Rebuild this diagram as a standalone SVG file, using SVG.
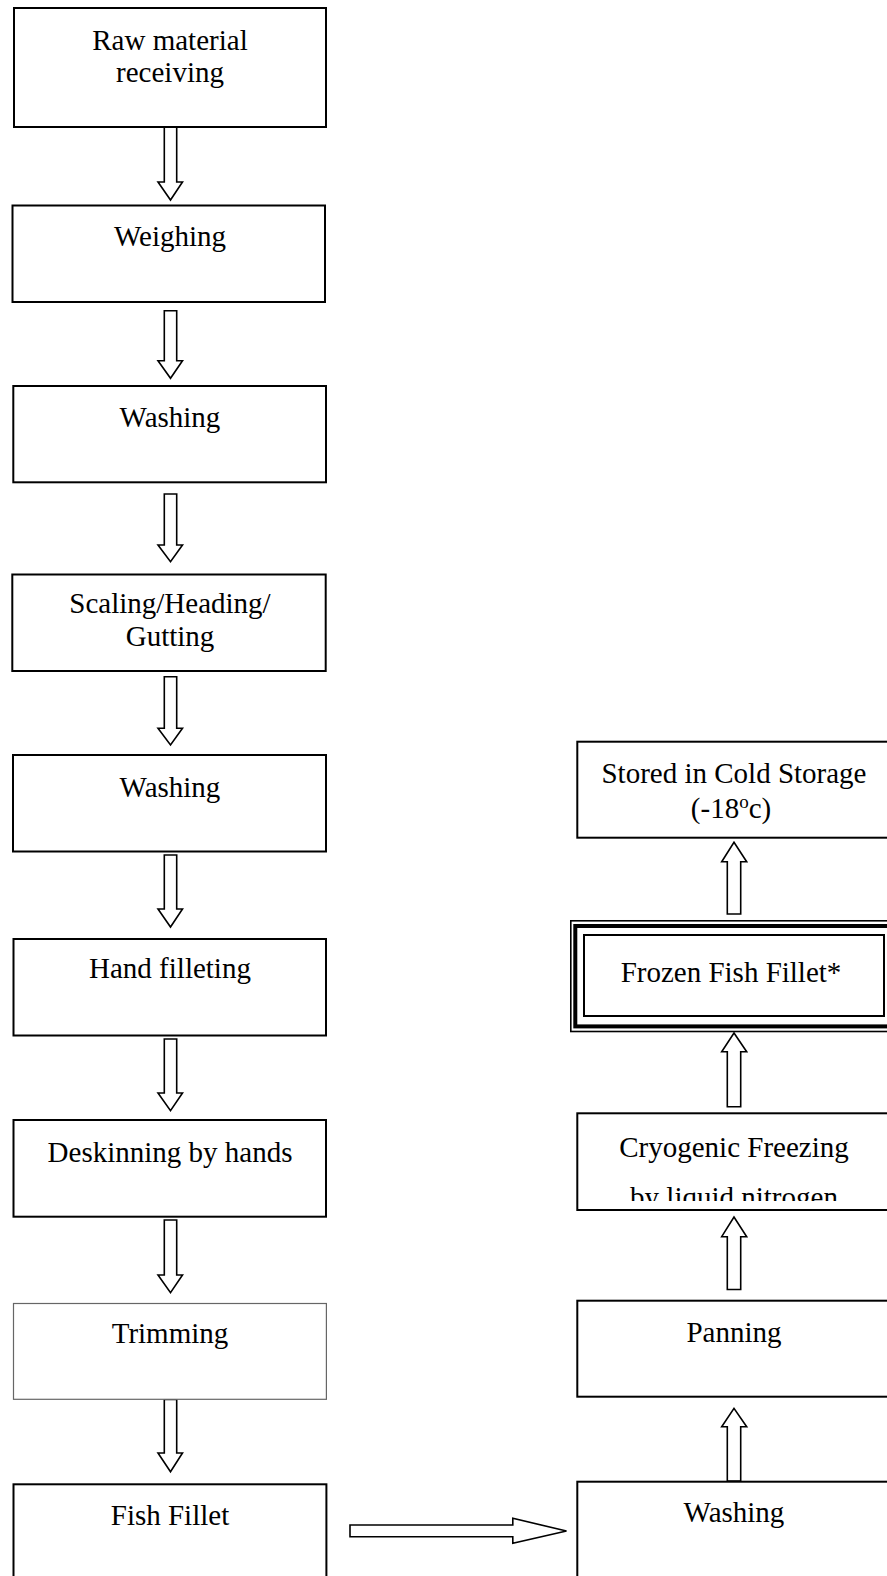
<svg xmlns="http://www.w3.org/2000/svg" width="887" height="1576" viewBox="0 0 887 1576">
<style>
.box{fill:#fff;stroke:#000;stroke-width:2}
.thin{fill:#fff;stroke:#666;stroke-width:1.2}
.arr{fill:#fff;stroke:#000;stroke-width:1.6;stroke-linejoin:miter}
text{font-family:"Liberation Serif","Times New Roman",serif;font-size:29px;fill:#000;text-anchor:middle}
</style>
<defs>
<clipPath id="cryoClip"><rect x="578" y="1114" width="309" height="87"/></clipPath>
</defs>
<rect x="0" y="0" width="887" height="1576" fill="#fff"/>

<g id="connectors">
<polygon class="arr" points="164.3,127 176.7,127 176.7,182 182.5,182 170.5,200 158,182 164.3,182"/>
<polygon class="arr" points="164.3,310.7 176.7,310.7 176.7,360.7 182.5,360.7 170.5,378.3 158,360.7 164.3,360.7"/>
<polygon class="arr" points="164.3,494 176.7,494 176.7,545 182.5,545 170.5,561.7 158,545 164.3,545"/>
<polygon class="arr" points="164.3,676.7 176.7,676.7 176.7,728.3 182.5,728.3 170.5,745 158,728.3 164.3,728.3"/>
<polygon class="arr" points="164.3,855 176.7,855 176.7,909 182.5,909 170.5,927 158,909 164.3,909"/>
<polygon class="arr" points="164.3,1039 176.7,1039 176.7,1093 182.5,1093 170.5,1110.7 158,1093 164.3,1093"/>
<polygon class="arr" points="164.3,1220 176.7,1220 176.7,1275 182.5,1275 170.5,1292.7 158,1275 164.3,1275"/>
<polygon class="arr" points="164.3,1399.5 176.7,1399.5 176.7,1453 182.5,1453 170.5,1471.7 158,1453 164.3,1453"/>
<polygon class="arr" points="350,1525 512.8,1525 512.8,1518.3 566.5,1531 512.8,1543.3 512.8,1536.7 350,1536.7"/>
<polygon class="arr" points="727.3,1481 740.7,1481 740.7,1426.7 746.7,1426.7 734,1408.3 721.7,1426.7 727.3,1426.7"/>
<polygon class="arr" points="727.3,1289.5 740.7,1289.5 740.7,1236.7 746.7,1236.7 734,1217 721.7,1236.7 727.3,1236.7"/>
<polygon class="arr" points="727.3,1106.7 740.7,1106.7 740.7,1051.7 746.7,1051.7 734,1033 721.7,1051.7 727.3,1051.7"/>
<polygon class="arr" points="727.3,914 740.7,914 740.7,861.7 746.7,861.7 734,842.3 721.7,861.7 727.3,861.7"/>
</g>

<g id="n-raw">
<rect class="box" x="14" y="8" width="312" height="119"/>
<text x="170" y="49.5">Raw material</text>
<text x="170" y="82">receiving</text>
</g>
<g id="n-weighing">
<rect class="box" x="12.5" y="205.5" width="312.5" height="96.5"/>
<text x="170" y="246">Weighing</text>
</g>
<g id="n-washing1">
<rect class="box" x="13.3" y="386" width="312.7" height="96.3"/>
<text x="170" y="427">Washing</text>
</g>
<g id="n-scaling">
<rect class="box" x="12.3" y="574.5" width="313.4" height="96.5"/>
<text x="170" y="613.3">Scaling/Heading/</text>
<text x="170" y="646">Gutting</text>
</g>
<g id="n-washing2">
<rect class="box" x="13" y="755" width="313" height="96.5"/>
<text x="170" y="796.7">Washing</text>
</g>
<g id="n-filleting">
<rect class="box" x="13.5" y="939" width="312.5" height="96.5"/>
<text x="170" y="978">Hand filleting</text>
</g>
<g id="n-deskinning">
<rect class="box" x="13.5" y="1120" width="312.5" height="96.7"/>
<text x="170" y="1161.7">Deskinning by hands</text>
</g>
<g id="n-trimming">
<rect class="thin" x="13.5" y="1303.5" width="312.9" height="95.8"/>
<text x="170" y="1343.3">Trimming</text>
</g>
<g id="n-fillet">
<rect class="box" x="13.5" y="1484.3" width="312.9" height="120"/>
<text x="170" y="1525">Fish Fillet</text>
</g>

<g id="n-stored">
<rect class="box" x="577.3" y="741.7" width="320" height="96"/>
<text x="734" y="783">Stored in Cold Storage</text>
<text x="731" y="818">(-18<tspan dy="-10" font-size="19">o</tspan><tspan dy="10">c)</tspan></text>
</g>
<g id="n-frozen">
<rect x="570.8" y="920.8" width="330" height="110.7" fill="#fff" stroke="#000" stroke-width="1.6"/>
<rect x="575.3" y="926" width="330" height="100.4" fill="none" stroke="#000" stroke-width="4"/>
<rect x="584" y="935" width="300" height="81" fill="#fff" stroke="#000" stroke-width="2"/>
<text x="731" y="982">Frozen Fish Fillet*</text>
</g>
<g id="n-cryogenic">
<rect class="box" x="577.3" y="1113.3" width="320" height="96.7"/>
<text x="734" y="1157">Cryogenic Freezing</text>
<text x="734" y="1207" clip-path="url(#cryoClip)">by liquid nitrogen</text>
</g>
<g id="n-panning">
<rect class="box" x="577.3" y="1300.7" width="320" height="96"/>
<text x="734" y="1341.7">Panning</text>
</g>
<g id="n-washing3">
<rect class="box" x="577.3" y="1481.7" width="320" height="120"/>
<text x="734" y="1521.7">Washing</text>
</g>
</svg>
